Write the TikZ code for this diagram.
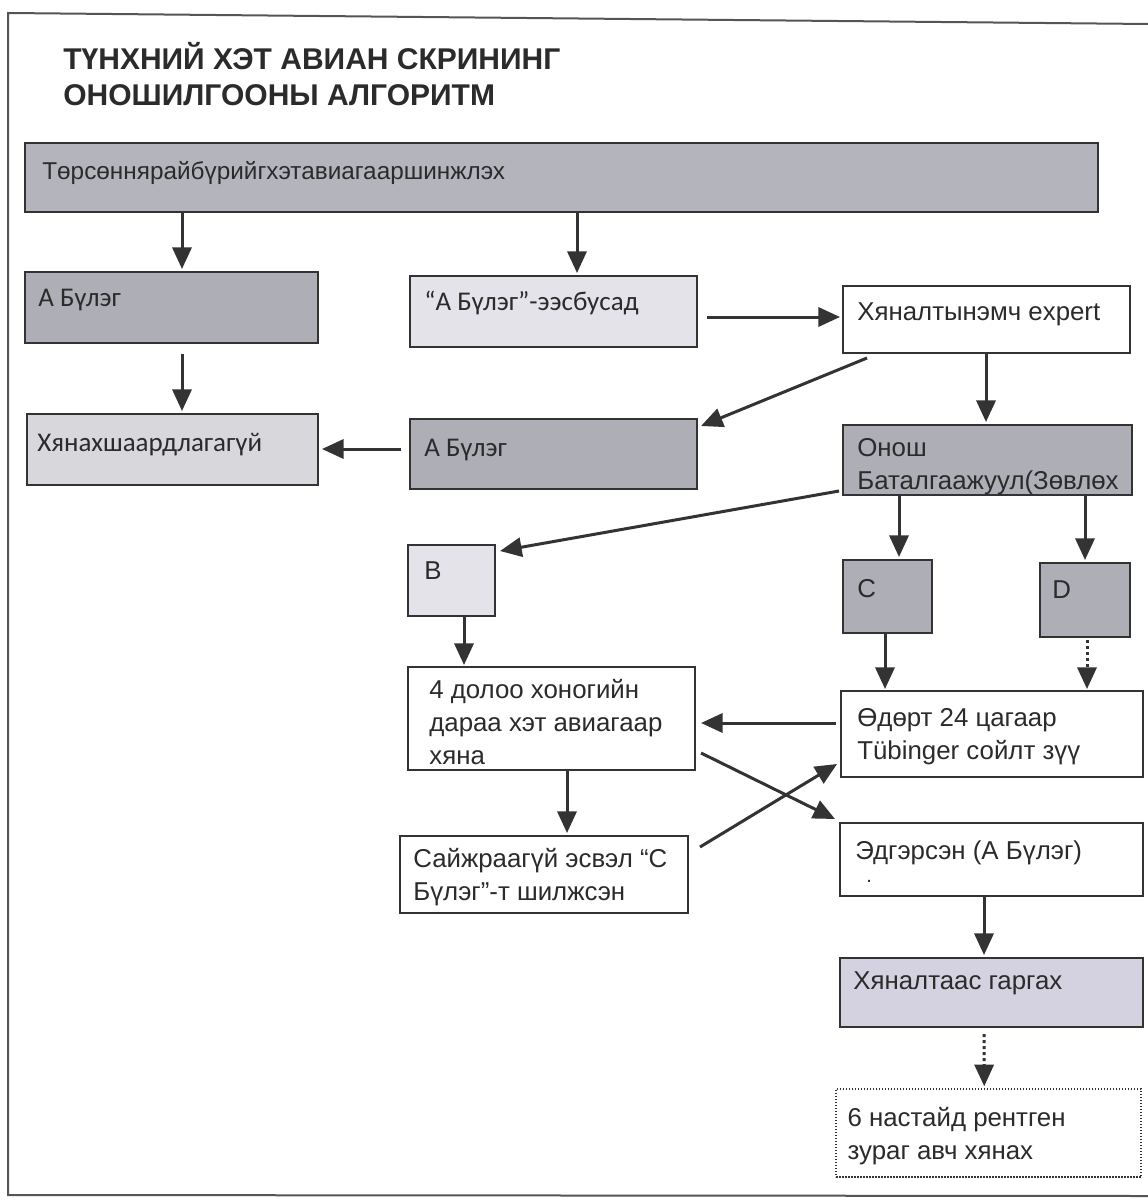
\documentclass[tikz,border=0pt]{standalone}
\usepackage{fontspec}
\setmainfont{Liberation Sans}
\newfontfamily\calibfont{Carlito}
\usetikzlibrary{arrows.meta,fit}
\definecolor{lineC}{HTML}{333333}
\definecolor{textC}{HTML}{2B2B2B}
\definecolor{darkF}{HTML}{AEAEB6}
\definecolor{topF}{HTML}{B4B4BC}
\definecolor{lightF}{HTML}{E3E3E9}
\definecolor{midF}{HTML}{D7D7DC}
\definecolor{lavF}{HTML}{D4D2E0}
\definecolor{frameC}{HTML}{555555}
\begin{document}
\begin{tikzpicture}[x=0.6pt,y=-0.6pt,
  box/.style={draw=lineC, line width=1.2pt, inner sep=0pt},
  dotbox/.style={draw=lineC, line width=0.9pt, dash pattern=on 0.9pt off 0.9pt, inner sep=0pt},
  arr/.style={draw=lineC, line width=1.8pt, -{Triangle[length=13pt,width=11.5pt]}},
  dotarr/.style={arr, dash pattern=on 1.8pt off 1.8pt},
  txt/.style={anchor=west, inner sep=0pt, align=left, text=textC, font=\fontsize{15.5pt}{19.8pt}\selectfont},
  ctxt/.style={txt, font=\calibfont\fontsize{16.2pt}{19pt}\selectfont},
  ttxt/.style={txt, font=\fontsize{14.6pt}{18pt}\selectfont}]
\useasboundingbox (0,0) rectangle (1148,1202);
\draw[frameC, line width=1.2pt] (1148,24) -- (8,13) -- (8,1195) -- (1148,1196);

\node[anchor=north west, inner sep=0pt, align=left, text=textC,
  font=\bfseries\fontsize{18pt}{21.5pt}\selectfont] (title) at (63,42)
  {ТҮНХНИЙ ХЭТ АВИАН СКРИНИНГ\\ОНОШИЛГООНЫ АЛГОРИТМ};

% boxes
\node[box, fill=topF,   fit={(25,143) (1098,212)}]  (top) {};
\node[box, fill=darkF,  fit={(25,272) (318,343)}]   (a1) {};
\node[box, fill=lightF, fit={(410,276) (697,347)}]  (a2) {};
\node[box, fill=white,  fit={(843,286) (1130,353)}] (hy) {};
\node[box, fill=midF,   fit={(27,414) (318,485)}]   (hn) {};
\node[box, fill=darkF,  fit={(410,419) (697,489)}]  (a3) {};
\node[box, fill=darkF,  fit={(843,425) (1132,495)}] (on) {};
\node[box, fill=lightF, fit={(408,545) (495,616)}]  (b) {};
\node[box, fill=darkF,  fit={(843,560) (932,633)}]  (c) {};
\node[box, fill=darkF,  fit={(1040,563) (1130,637)}] (d) {};
\node[box, fill=white,  fit={(408,667) (695,770)}]  (w4) {};
\node[box, fill=white,  fit={(841,691) (1143,777)}] (od) {};
\node[box, fill=white,  fit={(400,836) (688,913)}]  (sj) {};
\node[box, fill=white,  fit={(840,823) (1143,896)}] (ed) {};
\node[box, fill=lavF,   fit={(840,958) (1143,1027)}] (hg) {};
\node[dotbox, fill=white, fit={(836,1089) (1141,1177)}] (rg) {};

% texts
\node[ttxt] (topT) at ([shift={(18,-5)}]top.west) {Төрсөннярайбүрийгхэтавиагааршинжлэх};
\node[ctxt] (a1T) at ([shift={(14,-7)}]a1.west) {А Бүлэг};
\node[ctxt] (a2T) at ([shift={(15,-9)}]a2.west) {“А Бүлэг”-ээсбусад};
\node[txt]  (hyT) at ([shift={(15,-5)}]hy.west) {Хяналтынэмч expert};
\node[ctxt] (hnT) at ([shift={(11,-5)}]hn.west) {Хянахшаардлагагүй};
\node[ctxt] (a3T) at ([shift={(15,-4)}]a3.west) {А Бүлэг};
\node[txt]  (onT) at ([shift={(15,7)}]on.west) {Онош\\Баталгаажуул(Зөвлөх};
\node[txt]  (bT)  at ([shift={(17,-10)}]b.west) {B};
\node[txt]  (cT)  at ([shift={(15,-8)}]c.west) {C};
\node[txt]  (dT)  at ([shift={(13,-10)}]d.west) {D};
\node[txt]  (w4T) at ([shift={(22,4)}]w4.west) {4 долоо хоногийн\\дараа хэт авиагаар\\хяна};
\node[txt]  (odT) at ([shift={(17,3)}]od.west) {Өдөрт 24 цагаар\\Tübinger сойлт зүү};
\node[txt]  (sjT) at ([shift={(14,3)}]sj.west) {Сайжраагүй эсвэл “С\\Бүлэг”-т шилжсэн};
\node[txt]  (edT) at ([shift={(16,-7)}]ed.west) {Эдгэрсэн (А Бүлэг)};
\node[txt, font=\fontsize{12pt}{14pt}\selectfont]  (edDot) at (866,881) {.};
\node[txt]  (hgT) at ([shift={(14,-9)}]hg.west) {Хяналтаас гаргах};
\node[txt]  (rgT) at ([shift={(12,3)}]rg.west) {6 настайд рентген\\зураг авч хянах};

% connectors
\draw[arr] ([shift={(158,0)}]top.south west) -- ([shift={(158,-2)}]a1.north west);
\draw[arr] ([shift={(553,0)}]top.south west) -- ([shift={(168,-2)}]a2.north west);
\draw[arr] ([shift={(158,10)}]a1.south west) -- ([shift={(156,-2)}]hn.north west);
\draw[arr] ([shift={(9,42)}]a2.north east) -- ([shift={(-2,32)}]hy.north west);
\draw[arr] ([shift={(25,4)}]hy.south west) -- ([shift={(3,8)}]a3.north east);
\draw[arr] ([shift={(144,0)}]hy.south west) -- ([shift={(144,-2)}]on.north west);
\draw[arr] ([shift={(-8,31)}]a3.north west) -- ([shift={(3,36)}]hn.north east);
\draw[arr] ([shift={(-3,-5)}]on.south west) -- ([shift={(4,7)}]b.north east);
\draw[arr] ([shift={(57,0)}]on.south west) -- ([shift={(57,-2)}]c.north west);
\draw[arr] ([shift={(243,0)}]on.south west) -- ([shift={(46,-2)}]d.north west);
\draw[arr] ([shift={(57,0)}]b.south west) -- ([shift={(57,-1)}]w4.north west);
\draw[arr] ([shift={(43,0)}]c.south west) -- ([shift={(45,-1)}]od.north west);
\draw[dotarr] ([shift={(48,2)}]d.south west) -- ([shift={(247,-1)}]od.north west);
\draw[arr] ([shift={(-4,33)}]od.north west) -- ([shift={(5,57)}]w4.north east);
\draw[arr] ([shift={(5,87)}]w4.north east) -- ([shift={(-4,-3)}]ed.north west);
\draw[arr] ([shift={(160,0)}]w4.south west) -- ([shift={(168,-2)}]sj.north west);
\draw[arr] ([shift={(11,12)}]sj.north east) -- ([shift={(-3,-14)}]od.south west);
\draw[arr] ([shift={(145,0)}]ed.south west) -- ([shift={(145,-2)}]hg.north west);
\draw[dotarr] ([shift={(145,6)}]hg.south west) -- ([shift={(149,-2)}]rg.north west);
\end{tikzpicture}
\end{document}
